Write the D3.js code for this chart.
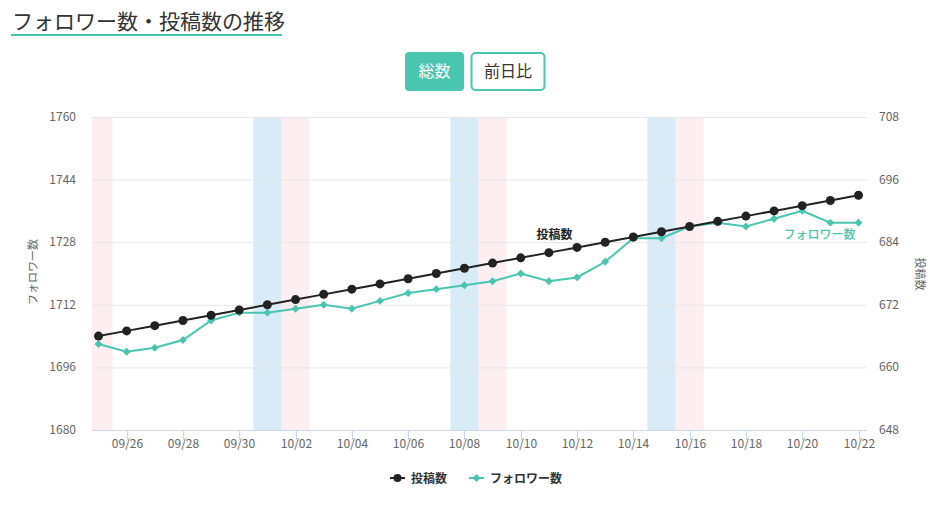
<!DOCTYPE html>
<html lang="ja">
<head>
<meta charset="UTF-8">
<title>フォロワー数・投稿数の推移</title>
<script src="https://d3js.org/d3.v7.min.js"></script>
<style>
    body { margin: 0; background: #fff; font-family: "Noto Sans CJK JP", "Noto Sans", sans-serif; }
    svg { display: block; }
</style>
</head>
<body>
<div id="chart"></div>
<script>
// 日付 (09/25 - 10/22)
const dates = ["09/25","09/26","09/27","09/28","09/29","09/30","10/01","10/02","10/03","10/04",
               "10/05","10/06","10/07","10/08","10/09","10/10","10/11","10/12","10/13","10/14",
               "10/15","10/16","10/17","10/18","10/19","10/20","10/21","10/22"];
// 投稿数 (右軸)
const posts = [666,667,668,669,670,671,672,673,674,675,676,677,678,679,680,681,682,683,684,685,
               686,687,688,689,690,691,692,693];
// フォロワー数 (左軸)
const followers = [1702,1700,1701,1703,1708,1710,1710,1711,1712,1711,1713,1715,1716,1717,1718,1720,
                   1718,1719,1723,1729,1729,1732,1733,1732,1734,1736,1733,1733];
// 土曜・日曜
const saturdays = ["10/01","10/08","10/15"];
const sundays = ["09/25","10/02","10/09","10/16"];
// 軸目盛
const leftTicks = [1680,1696,1712,1728,1744,1760];
const rightTicks = [648,660,672,684,696,708];
const xTickLabels = ["09/26","09/28","09/30","10/02","10/04","10/06","10/08","10/10","10/12","10/14",
                     "10/16","10/18","10/20","10/22"];

const W = 944, H = 505;
const plot = {left: 92, right: 867, top: 117, bottom: 430};
const green = "#4ac5b0", dark = "#222222";

const svg = d3.select("#chart").append("svg").attr("width", W).attr("height", H);

// タイトル
svg.append("text").attr("x", 12).attr("y", 29)
    .attr("font-size", 21).attr("fill", "#333")
    .text("フォロワー数・投稿数の推移");
svg.append("rect").attr("x", 11).attr("y", 34).attr("width", 271).attr("height", 2).attr("fill", green);

// ボタン
svg.append("rect").attr("x", 405).attr("y", 52).attr("width", 59).attr("height", 39)
    .attr("rx", 4).attr("fill", green);
svg.append("text").attr("x", 434.5).attr("y", 77).attr("text-anchor", "middle")
    .attr("font-size", 16).attr("fill", "#fff").text("総数");
svg.append("rect").attr("x", 471.5).attr("y", 53).attr("width", 73).attr("height", 37)
    .attr("rx", 4).attr("fill", "#fff").attr("stroke", green).attr("stroke-width", 2);
svg.append("text").attr("x", 508).attr("y", 77).attr("text-anchor", "middle")
    .attr("font-size", 16).attr("fill", "#333").text("前日比");

// スケール
const x = d3.scaleLinear().domain([0, dates.length - 1]).range([98.5, 858.5]);
const yL = d3.scaleLinear().domain([1680, 1760]).range([plot.bottom, plot.top]);
const yR = d3.scaleLinear().domain([648, 708]).range([plot.bottom, plot.top]);
const idx = d => dates.indexOf(d);

// 週末の帯
function band(list, color) {
    svg.append("g").selectAll("rect").data(list).join("rect")
        .attr("x", d => Math.max(plot.left, x(idx(d) - 0.5)))
        .attr("width", d => Math.min(plot.right, x(idx(d) + 0.5)) - Math.max(plot.left, x(idx(d) - 0.5)))
        .attr("y", plot.top).attr("height", plot.bottom - plot.top)
        .attr("fill", color);
}
band(sundays, "#fdeef2");
band(saturdays, "#d8ebf6");

// グリッド
svg.append("g").selectAll("line").data(leftTicks.slice(1)).join("line")
    .attr("x1", plot.left).attr("x2", plot.right)
    .attr("y1", d => yL(d) + 0.5).attr("y2", d => yL(d) + 0.5)
    .attr("stroke", "#e6e6e6");

// 左軸
svg.append("g").selectAll("text").data(leftTicks).join("text")
    .attr("x", 76).attr("y", d => yL(d) + 4).attr("text-anchor", "end")
    .attr("font-size", 12).attr("fill", "#666").text(d => d);
// 右軸
svg.append("g").selectAll("text").data(rightTicks).join("text")
    .attr("x", 879).attr("y", d => yR(d) + 4)
    .attr("font-size", 12).attr("fill", "#666").text(d => d);

svg.append("text").attr("transform", "translate(37,272) rotate(-90)")
    .attr("text-anchor", "middle").attr("font-size", 11).attr("fill", "#666").text("フォロワー数");
svg.append("text").attr("transform", "translate(916,274) rotate(90)")
    .attr("text-anchor", "middle").attr("font-size", 11).attr("fill", "#666").text("投稿数");

// X軸
const xAxis = svg.append("g");
xAxis.append("line").attr("x1", plot.left).attr("x2", plot.right)
    .attr("y1", plot.bottom + 0.5).attr("y2", plot.bottom + 0.5).attr("stroke", "#ccd6eb");
const xt = xAxis.selectAll("g.tick").data(xTickLabels).join("g").attr("class", "tick")
    .attr("transform", d => `translate(${Math.round(x(idx(d))) + 0.5},0)`);
xt.append("line").attr("y1", plot.bottom).attr("y2", plot.bottom + 10).attr("stroke", "#ccd6eb");
xt.append("text").attr("y", plot.bottom + 18).attr("text-anchor", "middle")
    .attr("font-size", 12).attr("fill", "#666").text(d => d);

// 線
const lineL = d3.line().x((d, i) => x(i)).y(d => yL(d));
const lineR = d3.line().x((d, i) => x(i)).y(d => yR(d));

svg.append("path").datum(followers).attr("d", lineL)
    .attr("fill", "none").attr("stroke", green).attr("stroke-width", 2);
svg.append("g").selectAll("path").data(followers).join("path")
    .attr("d", d3.symbol(d3.symbolDiamond2, 40))
    .attr("transform", (d, i) => `translate(${x(i)},${yL(d)})`)
    .attr("fill", green);

svg.append("path").datum(posts).attr("d", lineR)
    .attr("fill", "none").attr("stroke", dark).attr("stroke-width", 2);
svg.append("g").selectAll("circle").data(posts).join("circle")
    .attr("cx", (d, i) => x(i)).attr("cy", d => yR(d)).attr("r", 4.5)
    .attr("fill", dark);

// 系列ラベル
svg.append("text").attr("x", x(16.2)).attr("y", 239).attr("text-anchor", "middle")
    .attr("font-size", 12).attr("font-weight", "bold").attr("fill", dark).text("投稿数");
svg.append("text").attr("x", x(27) - 3).attr("y", 239).attr("text-anchor", "end")
    .attr("font-size", 12).attr("font-weight", 500).attr("fill", green).text("フォロワー数");

// 凡例
const legend = svg.append("g").attr("transform", "translate(0,478)");
legend.append("line").attr("x1", 390).attr("x2", 405).attr("stroke", dark).attr("stroke-width", 2);
legend.append("circle").attr("cx", 397.5).attr("r", 4).attr("fill", dark);
legend.append("text").attr("x", 411).attr("y", 4.5).attr("font-size", 12).attr("font-weight", "bold")
    .attr("fill", "#333").text("投稿数");
legend.append("line").attr("x1", 469).attr("x2", 484).attr("stroke", green).attr("stroke-width", 2);
legend.append("path").attr("d", d3.symbol(d3.symbolDiamond2, 40))
    .attr("transform", "translate(476.5,0)").attr("fill", green);
legend.append("text").attr("x", 490).attr("y", 4.5).attr("font-size", 12).attr("font-weight", "bold")
    .attr("fill", "#333").text("フォロワー数");
</script>
</body>
</html>
